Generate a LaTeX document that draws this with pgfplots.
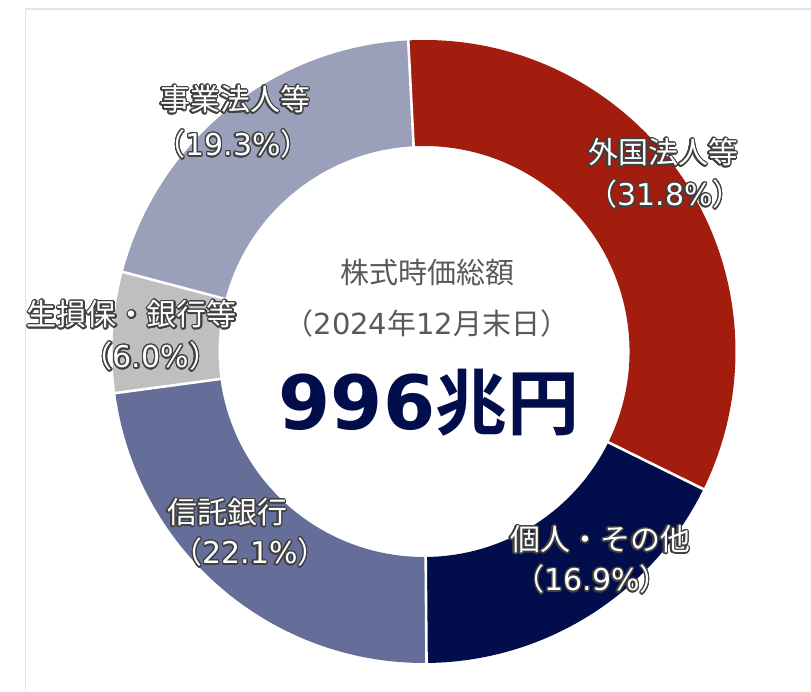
\documentclass[border=0pt]{standalone}
\usepackage{fontspec}
\setmainfont{DejaVu Sans}
\newfontfamily\jp{Noto Sans CJK JP}
\newfontfamily\lat{DejaVu Sans}
\newfontfamily\latB{DejaVu Sans Bold}
\newfontfamily\jpB{Noto Sans CJK JP Bold}
\usepackage{pgfplots}
\pgfplotsset{compat=1.18}
\usepackage[copies]{contour}
\contourlength{1.3pt}
\contournumber{24}
\definecolor{cRed}{HTML}{A31D0F}
\definecolor{cNavy}{HTML}{020D4B}
\definecolor{cSlate}{HTML}{646E98}
\definecolor{cGray}{HTML}{BFBFBF}
\definecolor{cLav}{HTML}{9AA0B9}
\definecolor{txtGray}{HTML}{595959}
\definecolor{olGray}{HTML}{404040}
\definecolor{frameGray}{HTML}{E3E3EA}
% data (percent shares)
\def\vA{31.8}\def\vB{16.9}\def\vC{22.1}\def\vD{6.0}\def\vE{19.3}
\pgfmathsetmacro\tot{\vA+\vB+\vC+\vD+\vE}
\pgfmathsetmacro\aO{92.9}
\pgfmathsetmacro\aA{\aO-\vA/\tot*360}
\pgfmathsetmacro\aB{\aA-\vB/\tot*360}
\pgfmathsetmacro\aC{\aB-\vC/\tot*360}
\pgfmathsetmacro\aD{\aC-\vD/\tot*360}
\pgfmathsetmacro\aE{\aD-\vE/\tot*360}
\def\cx{424}\def\cy{339.5}\def\Ro{311.5}\def\Ri{205.5}
\newcommand\ring[3]{%
  \fill[#3] (axis cs:{\cx+\Ro*cos(#1)},{\cy+\Ro*sin(#1)}) arc[start angle=#1,end angle=#2,radius=\Ro pt]
    -- (axis cs:{\cx+\Ri*cos(#2)},{\cy+\Ri*sin(#2)}) arc[start angle=#2,end angle=#1,radius=\Ri pt] -- cycle;}
\newcommand\sep[1]{%
  \draw[white,line width=2.6pt] (axis cs:{\cx+(\Ri-2)*cos(#1)},{\cy+(\Ri-2)*sin(#1)}) -- (axis cs:{\cx+(\Ro+2)*cos(#1)},{\cy+(\Ro+2)*sin(#1)});}
\newcommand\olab[1]{\contour{olGray}{\textcolor{white}{#1}}}
\newcommand\J{\jp}\newcommand\D{\lat}
\begin{document}
\begin{tikzpicture}
\path[use as bounding box] (0,0) rectangle (811pt,691pt);
\begin{axis}[width=811pt,height=691pt,scale only axis,xmin=0,xmax=811,ymin=0,ymax=691,hide axis,clip=false]
\ring{\aO}{\aA}{cRed}
\ring{\aA}{\aB}{cNavy}
\ring{\aB}{\aC}{cSlate}
\ring{\aC}{\aD}{cGray}
\ring{\aD}{\aE}{cLav}
\sep{\aO}\sep{\aA}\sep{\aB}\sep{\aC}\sep{\aD}
\end{axis}
\draw[frameGray,line width=1.8pt] (25.5pt,0pt) -- (25.5pt,682pt) -- (811pt,682pt);
% center texts
\node[text=txtGray,font=\fontsize{29}{32}\selectfont] at (427pt,419pt) {\jp 株式時価総額};
\node[text=txtGray,font=\fontsize{29}{32}\selectfont] at (427pt,368pt) {{\jp （}2024{\jp 年}12{\jp 月末日）}};
\node[text=cNavy] at (429pt,288pt) {{\fontsize{75}{80}\selectfont\latB 996}{\fontsize{72}{80}\selectfont\jpB 兆円}};
% slice labels
\begin{scope}[every node/.style={font=\fontsize{30}{32}\selectfont,inner sep=0pt}]
\node at (663pt,538pt) {\olab{\J 外国法人等}};
\node at (665pt,496pt) {\olab{{\J （}{\D 31.8\%}{\J ）}}};
\node at (600pt,151pt) {\olab{\J 個人・その他}};
\node at (592pt,111pt) {\olab{{\J （}{\D 16.9\%}{\J ）}}};
\node at (227pt,178pt) {\olab{\J 信託銀行}};
\node at (250pt,138pt) {\olab{{\J （}{\D 22.1\%}{\J ）}}};
\node at (132pt,376pt) {\olab{\J 生損保・銀行等}};
\node at (151pt,334pt) {\olab{{\J （}{\D 6.0\%}{\J ）}}};
\node at (235pt,591pt) {\olab{\J 事業法人等}};
\node at (233pt,546pt) {\olab{{\J （}{\D 19.3\%}{\J ）}}};
\end{scope}
\end{tikzpicture}
\end{document}
